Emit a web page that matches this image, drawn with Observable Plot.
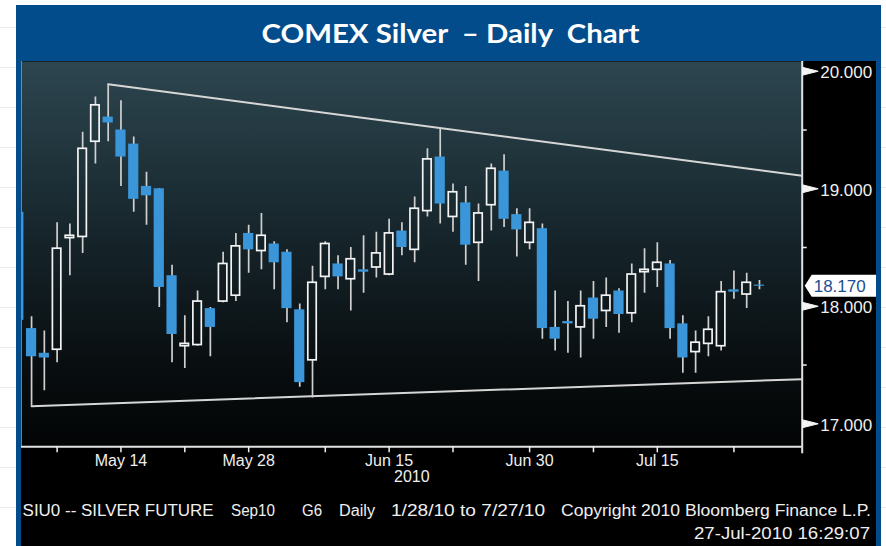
<!DOCTYPE html>
<html>
<head>
<meta charset="utf-8">
<script src="https://cdn.jsdelivr.net/npm/d3@7"></script>
<script src="https://cdn.jsdelivr.net/npm/@observablehq/plot@0.6"></script>
<style>
  html, body { margin: 0; padding: 0; }
  body { width: 886px; height: 546px; overflow: hidden; position: relative; background: #fff;
    background-image: repeating-linear-gradient(to bottom, transparent 0 27px, #e9e9e9 27px 28px, transparent 28px 40px); }
  #frame { position: absolute; left: 16px; top: 5px; width: 865px; height: 541px; background: #024c8c; }
  #titlebox { position: absolute; left: 16px; top: 5px; }
  #panel { position: absolute; left: 21px; top: 61px; width: 855px; height: 485px; background: #000; }
  #chart { position: absolute; left: 0; top: 0; }
  #footer { position: absolute; left: 0; top: 434px; }
  svg text.t { white-space: pre; }
</style>
</head>
<body>
<div id="frame"></div>
<svg id="titlebox" width="865" height="56"></svg>
<div id="panel">
  <div id="chart"></div>
  <svg id="footer" width="855" height="51"></svg>
</div>
<script>
// ---------------- data ----------------
const titleText = "COMEX Silver  \u2013 Daily  Chart";

const dates = [
  "2010-05-04","2010-05-05","2010-05-06","2010-05-07","2010-05-10","2010-05-11","2010-05-12","2010-05-13","2010-05-14",
  "2010-05-17","2010-05-18","2010-05-19","2010-05-20","2010-05-21","2010-05-24","2010-05-25","2010-05-26","2010-05-27","2010-05-28",
  "2010-06-01","2010-06-02","2010-06-03","2010-06-04","2010-06-07","2010-06-08","2010-06-09","2010-06-10","2010-06-11",
  "2010-06-14","2010-06-15","2010-06-16","2010-06-17","2010-06-18","2010-06-21","2010-06-22","2010-06-23","2010-06-24","2010-06-25",
  "2010-06-28","2010-06-29","2010-06-30","2010-07-01","2010-07-02","2010-07-06","2010-07-07","2010-07-08","2010-07-09",
  "2010-07-12","2010-07-13","2010-07-14","2010-07-15","2010-07-16","2010-07-19","2010-07-20","2010-07-21","2010-07-22","2010-07-23",
  "2010-07-26","2010-07-27"
];
const open = [
  18.80,17.81,17.60,17.63,18.58,18.59,19.40,19.61,19.50,
  19.38,19.02,19.00,18.26,17.66,17.67,17.98,18.04,18.09,18.62,
  18.47,18.53,18.46,17.97,17.54,18.25,18.36,18.23,18.31,
  18.33,18.27,18.64,18.48,18.81,19.27,18.76,18.88,18.54,18.86,
  19.15,18.78,18.54,18.66,17.82,17.87,17.82,18.07,17.96,
  18.13,17.94,18.29,18.31,18.36,17.85,17.61,17.68,17.66,18.14,
  18.10,18.18
];
const high = [
  18.80,17.91,17.79,18.71,18.70,19.48,19.78,19.89,19.75,
  19.44,19.14,19.00,18.35,17.92,18.13,17.99,18.46,18.62,18.69,
  18.79,18.55,18.48,18.02,18.34,18.55,18.43,18.50,18.60,
  18.63,18.74,18.71,18.93,19.34,19.51,19.04,19.02,18.87,19.21,
  19.29,18.83,18.83,18.70,18.13,18.04,18.13,18.21,18.24,
  18.15,18.36,18.49,18.54,18.39,17.92,17.79,17.91,18.21,18.30,
  18.28,18.22
];
const low = [
  17.88,17.15,17.28,17.52,18.26,18.45,19.21,19.40,19.02,
  18.80,18.69,17.99,17.52,17.47,17.66,17.57,18.03,18.04,18.28,
  18.31,18.14,17.86,17.31,17.22,18.14,18.14,17.96,18.11,
  18.24,18.26,18.43,18.37,18.76,18.70,18.63,18.35,18.21,18.64,
  18.67,18.42,18.48,17.72,17.62,17.60,17.56,17.72,17.82,
  17.77,17.86,18.11,18.16,17.72,17.43,17.43,17.57,17.62,18.06,
  17.98,18.14
];
const close = [
  17.88,17.57,17.56,18.49,18.60,19.34,19.71,19.56,19.27,
  18.91,18.94,18.16,17.76,17.68,18.04,17.82,18.36,18.51,18.48,
  18.60,18.37,17.98,17.35,18.20,18.53,18.25,18.40,18.29,
  18.45,18.62,18.50,18.83,19.25,18.87,18.97,18.52,18.79,19.17,
  18.74,18.65,18.71,17.81,17.72,17.85,18.00,17.89,18.09,
  17.93,18.27,18.31,18.37,17.81,17.56,17.69,17.80,18.12,18.12,
  18.20,18.17
];

// trendlines (x in trading-day index, y in price)
const upperTrendX = [7, 61.35];
const upperTrendY = [19.89, 19.11];
const lowerTrendX = [1, 61.35];
const lowerTrendY = [17.15, 17.38];

// axis ticks
const tickDates = ["2010-05-07","2010-05-14","2010-05-21","2010-05-28","2010-06-08","2010-06-15",
                   "2010-06-22","2010-06-30","2010-07-08","2010-07-15","2010-07-23"];
const labelDates = ["2010-05-14","2010-05-28","2010-06-15","2010-06-30","2010-07-15"];
const labelTexts = ["May 14","May 28","Jun 15","Jun 30","Jul 15"];
const yearLabel = "2010";
const yTicks = [17, 18, 19, 20];
const yMinorTicks = [17.5, 18.5, 19.5];
const xDomain = [0.2114, 61.346];
const yDomain = [16.804, 20.083];

const footerLine1 = ["SIU0 -- SILVER FUTURE", "Sep10", "G6", "Daily", "1/28/10 to 7/27/10", "Copyright 2010 Bloomberg Finance L.P."];
const footerLine2 = "27-Jul-2010 16:29:07";

// ---------------- build ----------------
const data = dates.map((d, i) => ({i, date: d, o: open[i], h: high[i], l: low[i], c: close[i]}));
const up = data.filter(d => d.c >= d.o);
const down = data.filter(d => d.c < d.o);
const upper = upperTrendX.map((x, k) => ({x, y: upperTrendY[k]}));
const lower = lowerTrendX.map((x, k) => ({x, y: lowerTrendY[k]}));
const tickIdx = tickDates.map(d => dates.indexOf(d));
const labelAt = new Map(labelDates.map((d, k) => [dates.indexOf(d), labelTexts[k]]));
const lastPrice = close[close.length - 1];

const FONT = "'Liberation Sans', Arial, sans-serif";
const WHITE = "#efefef";
const BLUE = "#3a96d8";

function gradientDefs() {
  const defs = d3.create("svg:defs");
  const lg = defs.append("linearGradient").attr("id", "bgGrad")
    .attr("x1", 0).attr("y1", 0).attr("x2", 0).attr("y2", 1);
  [[0, "#2d4650"], [0.45, "#16252b"], [0.8, "#080d0f"], [1, "#030505"]].forEach(([o, c]) =>
    lg.append("stop").attr("offset", o).attr("stop-color", c));
  return defs.node();
}

function priceTag(index, scales, values, dims) {
  const y = scales.y(lastPrice);
  const x0 = dims.width - dims.marginRight + 3;
  const g = d3.create("svg:g");
  g.append("path")
    .attr("d", `M${x0},${y}L${x0 + 7},${y - 11}H${dims.width}V${y + 11}H${x0 + 7}Z`)
    .attr("fill", "#ffffff");
  g.append("text")
    .attr("x", x0 + 9).attr("y", y).attr("dy", "0.36em")
    .attr("text-anchor", "start")
    .attr("fill", "#1d4f91").attr("font-size", 17).attr("font-family", FONT)
    .text(lastPrice.toFixed(3));
  return g.node();
}

const chart = Plot.plot({
  width: 855,
  height: 434,
  marginLeft: 0,
  marginRight: 74.3,
  marginTop: 0,
  marginBottom: 48.7,
  x: {type: "linear", domain: xDomain, label: null},
  y: {type: "linear", domain: yDomain, label: null},
  style: {background: "transparent", color: WHITE, fontFamily: FONT, fontSize: "16px", overflow: "visible"},
  marks: [
    gradientDefs,
    Plot.frame({fill: "url(#bgGrad)", stroke: null}),
    Plot.ruleX([xDomain[0]], {stroke: "#a9b4b8", strokeOpacity: 0.7, strokeWidth: 1}),
    Plot.line(upper, {x: "x", y: "y", stroke: "#d6d6d6", strokeWidth: 2, clip: true}),
    Plot.line(lower, {x: "x", y: "y", stroke: "#d6d6d6", strokeWidth: 2, clip: true}),
    // wicks
    Plot.ruleX(down, {x: "i", y1: "l", y2: "h", stroke: "#d0d0d0", strokeWidth: 1.7, clip: true}),
    Plot.ruleX(up, {x: "i", y1: "c", y2: "h", stroke: "#d0d0d0", strokeWidth: 1.7, clip: true}),
    Plot.ruleX(up, {x: "i", y1: "l", y2: "o", stroke: "#d0d0d0", strokeWidth: 1.7, clip: true}),
    // bodies
    Plot.rect(down, {x1: d => d.i - 0.4, x2: d => d.i + 0.4, y1: "o", y2: "c", fill: BLUE, clip: true}),
    Plot.rect(up, {x1: d => d.i - 0.33, x2: d => d.i + 0.33, y1: "o", y2: "c", fill: "none", stroke: "#f4f4f4", strokeWidth: 1.7, clip: true}),
    // frame borders
    Plot.ruleY([yDomain[0]], {stroke: "#e2e2e2", strokeWidth: 2}),
    Plot.ruleX([xDomain[1]], {stroke: "#e2e2e2", strokeWidth: 2, insetBottom: -7}),
    // x axis
    Plot.axisX(tickIdx, {anchor: "bottom", tickSize: 6, tickPadding: 2, strokeWidth: 1.5,
      tickFormat: i => labelAt.get(i) ?? "", fontSize: 16, label: null}),
    Plot.text([yearLabel], {frameAnchor: "bottom", dy: 35, fontSize: 16, fill: WHITE}),
    // y axis
    Plot.axisY(yMinorTicks, {anchor: "right", tickSize: 4, tickFormat: () => "", strokeWidth: 1.5, label: null}),
    Plot.vector(yTicks, {y: d => d, frameAnchor: "right", shape: "spike", rotate: 90, length: 16, r: 4,
      anchor: "start", fill: "#f4f4f4", stroke: "#f4f4f4", strokeWidth: 1}),
    Plot.axisY(yTicks, {anchor: "right", tickSize: 0, tickPadding: 18, dy: 1.5,
      tickFormat: d => d.toFixed(3), fontSize: 17, label: null}),
    priceTag
  ]
});
document.getElementById("chart").appendChild(chart);

// title
const tsvg = d3.select("#titlebox");
tsvg.append("text").attr("class", "t")
  .attr("x", 434.5).attr("y", 38).attr("text-anchor", "middle")
  .attr("fill", "#ffffff").attr("font-family", "Lato, 'Open Sans', sans-serif")
  .attr("font-weight", 700).attr("font-size", 26)
  .attr("textLength", 378).attr("lengthAdjust", "spacingAndGlyphs")
  .text(titleText);

// footer
const fsvg = d3.select("#footer");
const footX = [1.6, 210, 281, 318, 370, 540];
const footW = [191, 44, 20, 36, 154, 310];
footerLine1.forEach((s, k) => {
  fsvg.append("text").attr("class", "t").attr("x", footX[k]).attr("y", 21)
    .attr("fill", WHITE).attr("font-family", FONT).attr("font-size", 16)
    .attr("textLength", footW[k]).attr("lengthAdjust", "spacingAndGlyphs").text(s);
});
fsvg.append("text").attr("class", "t").attr("x", 849).attr("y", 44).attr("text-anchor", "end")
  .attr("fill", WHITE).attr("font-family", FONT).attr("font-size", 16)
  .attr("textLength", 176).attr("lengthAdjust", "spacingAndGlyphs").text(footerLine2);
</script>
</body>
</html>
